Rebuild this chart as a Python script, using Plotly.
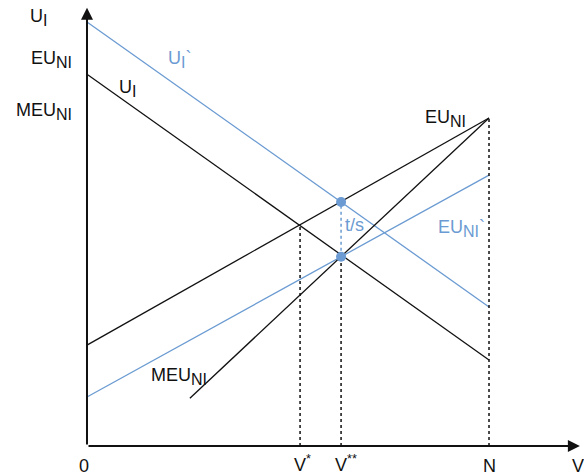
import plotly.graph_objects as go

# 数据（单位：N = 10）
line_names = ['U_I`', 'U_I', 'EU_NI', 'EU_NI`', 'MEU_NI']
line_x0 = [0, 0, 0, 0, 2.56]
line_y0 = [10.55, 9.25, 2.51, 1.22, 1.19]
line_x1 = [10, 10, 10, 10, 10]
line_y1 = [3.46, 2.14, 8.16, 6.74, 8.16]
line_blue = [True, False, False, True, False]

v_star = 5.3
v_2star = 6.32
n_val = 10
cross_star_y = 5.52      # U_I 与 EU_NI 交点
point_hi_y = 6.07        # U_I` 在 V**
point_lo_y = 4.71        # EU_NI` 在 V**
eu_end_y = 8.16

BLUE = '#6b9bd2'
BLACK = '#111111'
FONT = 'Liberation Sans, Arial, sans-serif'


def sub(t):
    return '<sub><span style="font-size:16px">%s</span></sub>' % t


fig = go.Figure()

# 直线
for name, x0, y0, x1, y1, blue in zip(line_names, line_x0, line_y0, line_x1, line_y1, line_blue):
    fig.add_trace(go.Scatter(
        x=[x0, x1], y=[y0, y1], mode='lines', name=name,
        line=dict(color=BLUE if blue else BLACK, width=1.3),
        showlegend=False, hoverinfo='skip',
    ))

# 虚线
for xv, yv in [(v_star, cross_star_y), (v_2star, point_lo_y), (n_val, eu_end_y)]:
    fig.add_trace(go.Scatter(
        x=[xv, xv], y=[0, yv], mode='lines',
        line=dict(color=BLACK, width=1.5, dash='dot'),
        showlegend=False, hoverinfo='skip',
    ))

fig.add_trace(go.Scatter(
    x=[v_2star, v_2star], y=[point_lo_y, point_hi_y], mode='lines',
    line=dict(color=BLUE, width=1.5, dash='dot'),
    showlegend=False, hoverinfo='skip',
))

# 点
fig.add_trace(go.Scatter(
    x=[v_2star, v_2star], y=[point_hi_y, point_lo_y], mode='markers',
    marker=dict(color=BLUE, size=10),
    showlegend=False, hoverinfo='skip',
))

# 坐标轴箭头
for xe, ye in [(0, 10.9), (12.26, 0)]:
    fig.add_annotation(
        x=xe, y=ye, ax=0, ay=0, xref='x', yref='y', axref='x', ayref='y',
        showarrow=True, arrowhead=2, arrowsize=1.2, arrowwidth=2, arrowcolor=BLACK,
        text='',
    )

# 文字
labels = [
    ('U' + sub('I'), -0.95, 10.65, 'right', BLACK),
    ('EU' + sub('NI'), -0.33, 9.62, 'right', BLACK),
    ('MEU' + sub('NI'), -0.33, 8.33, 'right', BLACK),
    ('U' + sub('I') + '`', 1.97, 9.62, 'left', BLUE),
    ('U' + sub('I'), 0.75, 8.9, 'left', BLACK),
    ('EU' + sub('NI'), 8.35, 8.15, 'left', BLACK),
    ('t/s', 6.37, 5.5, 'left', BLUE),
    ('EU' + sub('NI') + '`', 8.68, 5.4, 'left', BLUE),
    ('MEU' + sub('NI'), 1.55, 1.74, 'left', BLACK),
    ('0', -0.07, -0.5, 'center', BLACK),
    ('V<sup>*</sup>', 5.1, -0.44, 'left', BLACK),
    ('V<sup>**</sup>', 6.12, -0.44, 'left', BLACK),
    ('N', 10, -0.5, 'center', BLACK),
    ('V', 12.21, -0.5, 'center', BLACK),
]
for text, x, y, anchor, color in labels:
    fig.add_annotation(
        x=x, y=y, xref='x', yref='y', text=text, showarrow=False,
        xanchor=anchor, yanchor='middle',
        font=dict(family=FONT, size=18, color=color),
    )

fig.update_layout(
    width=584, height=476,
    margin=dict(l=0, r=0, t=0, b=0),
    plot_bgcolor='white', paper_bgcolor='white',
    xaxis=dict(range=[-2.164, 12.363], visible=False, fixedrange=True),
    yaxis=dict(range=[-0.746, 11.095], visible=False, fixedrange=True),
)

# 去掉 body 默认边距，使图正好填满窗口
fig.write_html(
    'out.html',
    config={'displayModeBar': False},
    post_script="document.body.style.margin='0';document.body.style.overflow='hidden';",
)
